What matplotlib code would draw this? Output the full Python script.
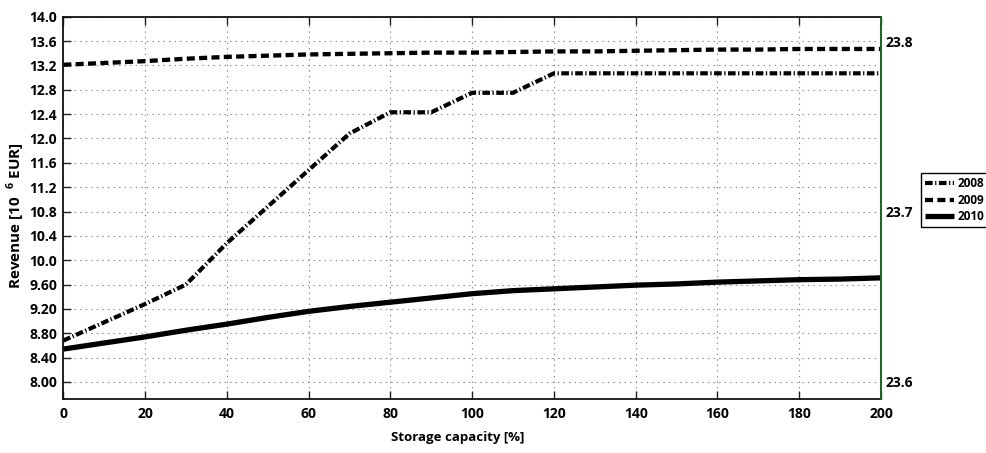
import matplotlib
matplotlib.use("Agg")
import matplotlib.pyplot as plt
from matplotlib import font_manager as fm

# ---------------- data ----------------
capacity = [0, 10, 20, 30, 40, 50, 60, 70, 80, 90, 100, 110, 120, 130, 140,
            150, 160, 170, 180, 190, 200]
rev_2008 = [8.68, 8.98, 9.28, 9.60, 10.28, 10.88, 11.48, 12.08, 12.43, 12.43,
            12.75, 12.75, 13.07, 13.07, 13.07, 13.07, 13.07, 13.07, 13.07, 13.07, 13.07]
rev_2009 = [13.21, 13.24, 13.27, 13.31, 13.34, 13.36, 13.38, 13.39, 13.40, 13.41,
            13.41, 13.42, 13.43, 13.43, 13.44, 13.45, 13.46, 13.46, 13.47, 13.47, 13.47]
rev_2010 = [8.54, 8.64, 8.74, 8.85, 8.95, 9.06, 9.16, 9.24, 9.31, 9.38, 9.45,
            9.50, 9.53, 9.56, 9.59, 9.61, 9.64, 9.66, 9.68, 9.69, 9.71]
series_labels = ["2008", "2009", "2010"]

x_ticks = [0, 20, 40, 60, 80, 100, 120, 140, 160, 180, 200]
y_ticks = [8.0, 8.4, 8.8, 9.2, 9.6, 10.0, 10.4, 10.8, 11.2, 11.6, 12.0, 12.4,
           12.8, 13.2, 13.6, 14.0]
y_tick_labels = ["8.00", "8.40", "8.80", "9.20", "9.60", "10.0", "10.4", "10.8",
                 "11.2", "11.6", "12.0", "12.4", "12.8", "13.2", "13.6", "14.0"]
y2_ticks = [23.6, 23.7, 23.8]
y2_tick_labels = ["23.6", "23.7", "23.8"]

# ---------------- fonts ----------------
avail = {f.name for f in fm.fontManager.ttflist}
fam = [f for f in ["Liberation Sans Narrow", "Open Sans", "DejaVu Sans"] if f in avail]
plt.rcParams['font.family'] = fam
plt.rcParams['font.weight'] = 'bold'
plt.rcParams['mathtext.fontset'] = 'custom'
plt.rcParams['mathtext.rm'] = fam[0]
plt.rcParams['mathtext.bf'] = fam[0] + ':bold'
plt.rcParams['lines.scale_dashes'] = False

fig = plt.figure(figsize=(9.87, 4.53), dpi=100)
L, R, T, B = 63.3, 881.0, 16.7, 399.0
W, H = 987.0, 453.0
ax = fig.add_axes([L / W, 1 - B / H, (R - L) / W, (B - T) / H])

ax.plot(capacity, rev_2008, color='black', lw=3.0, dashes=(5.5, 1.8, 0.9, 1.8),
        dash_capstyle='butt', label=series_labels[0])
ax.plot(capacity, rev_2009, color='black', lw=3.1, dashes=(5.8, 3.1),
        dash_capstyle='butt', label=series_labels[1])
ax.plot(capacity, rev_2010, color='black', lw=3.8, solid_capstyle='butt',
        label=series_labels[2])

ax.set_xlim(0, 200)
ax.set_ylim(7.72, 14.0)
ax.set_xticks(x_ticks)
ax.set_yticks(y_ticks)
ax.set_yticklabels(y_tick_labels)
ax.grid(True, linestyle=(0, (1, 3)), color='#888888', lw=0.8)
ax.tick_params(direction='in', length=6, width=1.0, labelsize=10,
               top=True, right=True, color='#222222')
ax.tick_params(axis='x', pad=6)
ax.tick_params(axis='y', pad=4.5)
for s in ax.spines.values():
    s.set_linewidth(1.3)
    s.set_color('#111111')

ax.set_xlabel("Storage capacity [%]", fontsize=9.5, fontweight='bold')
ax.xaxis.set_label_coords(0.482, -0.085)
ax.set_ylabel("Revenue [10  $^{\\mathbf{6}}$ EUR]", fontsize=11, fontweight='bold')
ax.yaxis.set_label_coords(-0.044, 0.48)

# right axis
ax2 = ax.twinx()
ax2.set_ylim(23.59, 23.8143)
ax2.set_yticks(y2_ticks)
ax2.set_yticklabels(y2_tick_labels)
ax2.tick_params(direction='in', length=0, labelsize=10, pad=3)
ax2.spines['right'].set_color('#1a7a1a')
ax2.spines['right'].set_linewidth(1.2)
for k in ['left', 'top', 'bottom']:
    ax2.spines[k].set_visible(False)

leg = ax.legend(loc='upper left', bbox_to_anchor=(920.7 / W, 1 - 173 / H),
                bbox_transform=fig.transFigure, fontsize=8.5, frameon=True,
                fancybox=False, edgecolor='black', framealpha=1,
                handlelength=2.5, handletextpad=0.3, labelspacing=0.3,
                borderpad=0.35, borderaxespad=0)
leg.get_frame().set_linewidth(1.0)
leg.set_zorder(10)

fig.savefig("out.png", dpi=100)
